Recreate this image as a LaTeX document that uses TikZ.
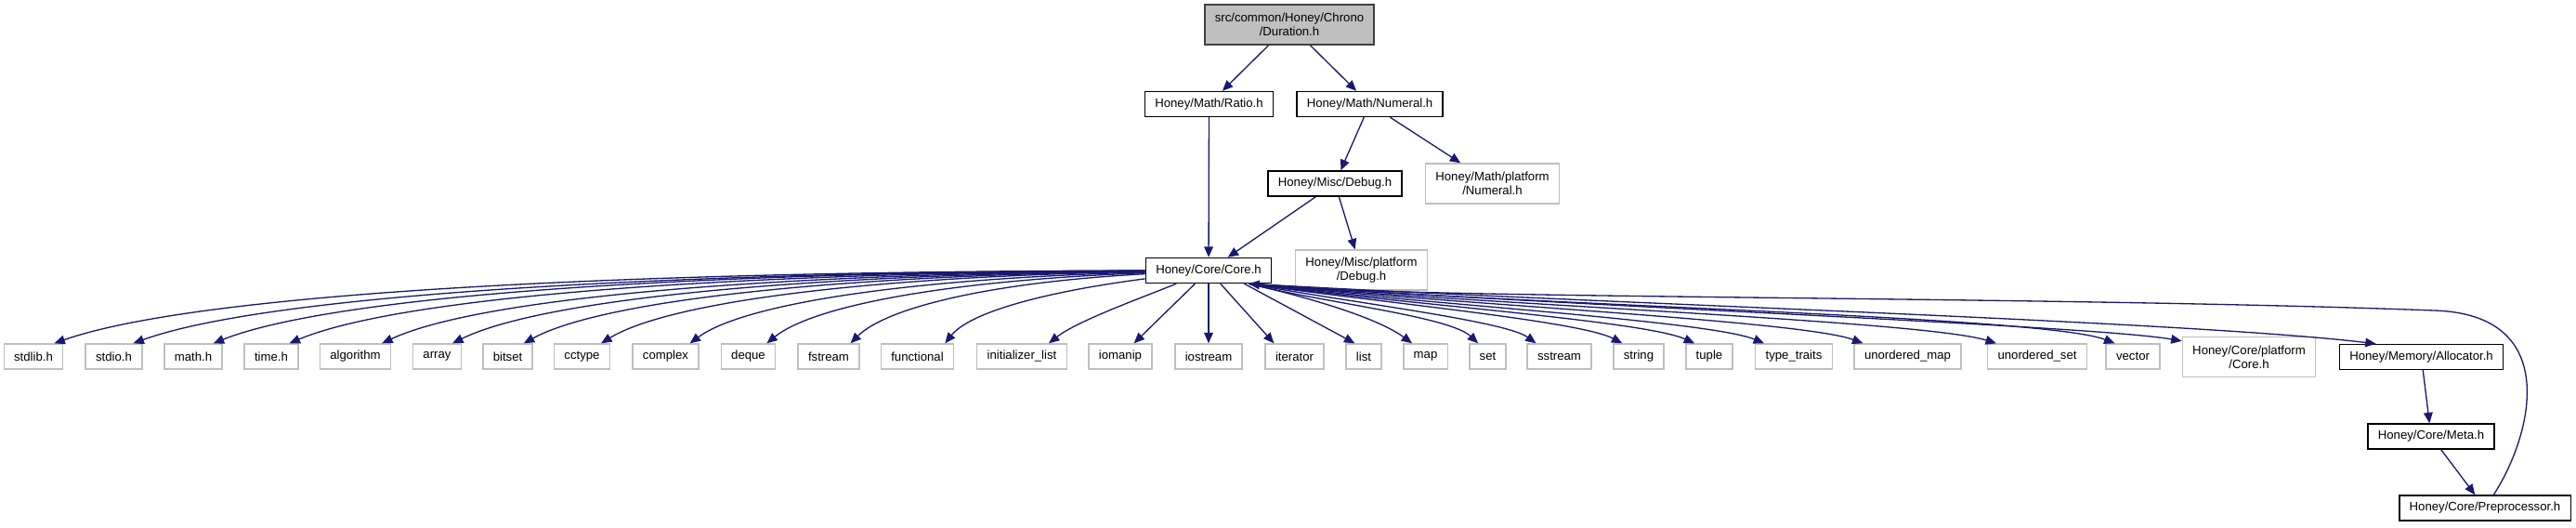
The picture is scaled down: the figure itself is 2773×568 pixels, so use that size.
\documentclass[tikz,border=0pt]{standalone}
\usepackage{fontspec}
\setmainfont{Liberation Sans}
\usepackage{tikz}
\usetikzlibrary{arrows.meta}
\definecolor{Edge}{HTML}{191970}
\definecolor{Grey}{HTML}{BFBFBF}
\definecolor{Frame}{HTML}{404040}

\begin{document}
\begin{tikzpicture}[x=0.02cm,y=-0.02cm,
      file/.style={draw=black,line width=0.8pt,inner xsep=6.2pt,inner ysep=1pt,minimum height=0.54cm,
        align=center,font=\fontsize{7.5}{8.5}\selectfont},
      ext/.style={file,draw=Grey},
      two/.style={minimum height=0.86cm},
      arr/.style={-{Triangle[length=6.5pt,width=5.5pt]},line width=0.75pt,draw=Edge}]
      \useasboundingbox (0,0) rectangle (2773,568);
      \node[file,two,fill=Grey,draw=Frame] (dur) at (1388,26.5) {src/common/Honey/Chrono\\/Duration.h};
      \node[file] (ratio) at (1301.5,112) {Honey/Math/Ratio.h};
      \node[file] (numeral) at (1474.5,112) {Honey/Math/Numeral.h};
      \node[file] (debug) at (1437,197.5) {Honey/Misc/Debug.h};
      \node[ext,two] (numplat) at (1606.5,197.5) {Honey/Math/platform\\/Numeral.h};
      \node[file] (core) at (1301,291) {Honey/Core/Core.h};
      \node[ext,two] (debugplat) at (1465.5,290.5) {Honey/Misc/platform\\/Debug.h};
      % standard headers
      \node[ext] (stdlib) at (36,383.5) {stdlib.h};
      \node[ext] (stdio) at (122.5,383.5) {stdio.h};
      \node[ext] (mathh) at (208,383.5) {math.h};
      \node[ext] (timeh) at (292,383.5) {time.h};
      \node[ext] (algo) at (382.5,383.5) {algorithm};
      \node[ext] (array) at (470.5,383.5) {array};
      \node[ext] (bitset) at (546.5,383.5) {bitset};
      \node[ext] (cctype) at (626.5,383.5) {cctype};
      \node[ext] (complex) at (716.5,383.5) {complex};
      \node[ext] (deque) at (805.5,383.5) {deque};
      \node[ext] (fstream) at (892,383.5) {fstream};
      \node[ext] (functional) at (987.5,383.5) {functional};
      \node[ext] (initlist) at (1100,383.5) {initializer\_list};
      \node[ext] (iomanip) at (1206,383.5) {iomanip};
      \node[ext] (iostream) at (1301,383.5) {iostream};
      \node[ext] (iterator) at (1393.5,383.5) {iterator};
      \node[ext] (list) at (1468,383.5) {list};
      \node[ext] (map) at (1534.5,383.5) {map};
      \node[ext] (set) at (1601.5,383.5) {set};
      \node[ext] (sstream) at (1678.5,383.5) {sstream};
      \node[ext] (string) at (1764,383.5) {string};
      \node[ext] (tuple) at (1840,383.5) {tuple};
      \node[ext] (traits) at (1931,383.5) {type\_traits};
      \node[ext] (umap) at (2053.5,383.5) {unordered\_map};
      \node[ext] (uset) at (2193,383.5) {unordered\_set};
      \node[ext] (vector) at (2296,383.5) {vector};
      \node[ext,two] (coreplat) at (2421,384) {Honey/Core/platform\\/Core.h};
      \node[file] (alloc) at (2606.5,384) {Honey/Memory/Allocator.h};
      \node[file] (meta) at (2617,469.5) {Honey/Core/Meta.h};
      \node[file] (prep) at (2675,546.5) {Honey/Core/Preprocessor.h};
      % upper part
      \draw[arr] (dur) -- (ratio);
      \draw[arr] (dur) -- (numeral);
      \draw[arr] (ratio) -- (core);
      \draw[arr] (numeral) -- (debug);
      \draw[arr] (numeral) -- (numplat);
      \draw[arr] (debug) -- (core);
      \draw[arr] (debug) -- (debugplat);
      % core to the left
      \draw[arr] (core) .. controls (598,292) and (199,320) .. ([xshift=-2mm]stdlib.north east);
      \draw[arr] (core) .. controls (644,293) and (274,322) .. ([xshift=-2mm]stdio.north east);
      \draw[arr] (core) .. controls (690,293) and (349,322) .. ([xshift=-2mm]mathh.north east);
      \draw[arr] (core) .. controls (735,294) and (422,323) .. ([xshift=-2mm]timeh.north east);
      \draw[arr] (core) .. controls (788,295) and (508,324) .. ([xshift=-2mm]algo.north east);
      \draw[arr] (core) .. controls (830,296) and (577,325) .. ([xshift=-2mm]array.north east);
      \draw[arr] (core) .. controls (871,297) and (643,326) .. ([xshift=-2mm]bitset.north east);
      \draw[arr] (core) .. controls (916,298) and (716,327) .. ([xshift=-2mm]cctype.north east);
      \draw[arr] (core) .. controls (967,300) and (799,328) .. ([xshift=-2mm]complex.north east);
      \draw[arr] (core) .. controls (1013,302) and (874,330) .. ([xshift=-2mm]deque.north east);
      \draw[arr] (core) .. controls (1061,304) and (953,332) .. ([xshift=-2mm]fstream.north east);
      \draw[arr] (core) .. controls (1124,314) and (1044,336) .. ([xshift=-2mm]functional.north east);
      \draw[arr] (core) .. controls (1230,320) and (1160,345) .. ([xshift=-4mm]initlist.north east);
      \draw[arr] (core) -- ([xshift=-4mm]iomanip.north east);
      \draw[arr] (core) -- (iostream);
      % core to the right
      \draw[arr] (core) -- ([xshift=2mm]iterator.north west);
      \draw[arr] ([xshift=-6mm]core.south east) -- ([xshift=2mm]list.north west);
      \draw[arr] ([xshift=-5mm]core.south east) .. controls (1400,318) and (1480,340) .. ([xshift=2mm]map.north west);
      \draw[arr] ([xshift=-5mm]core.south east) .. controls (1420,325) and (1560,340) .. ([xshift=2mm]set.north west);
      \draw[arr] ([xshift=-5mm]core.south east) .. controls (1450,325) and (1620,345) .. ([xshift=2mm]sstream.north west);
      \draw[arr] ([xshift=-5mm]core.south east) .. controls (1480,325) and (1700,345) .. ([xshift=2mm]string.north west);
      \draw[arr] ([xshift=-5mm]core.south east) .. controls (1500,326) and (1770,345) .. ([xshift=2mm]tuple.north west);
      \draw[arr] ([xshift=-5mm]core.south east) .. controls (1520,326) and (1840,345) .. ([xshift=2mm]traits.north west);
      \draw[arr] ([xshift=-5mm]core.south east) .. controls (1560,327) and (1940,345) .. ([xshift=2mm]umap.north west);
      \draw[arr] ([xshift=-5mm]core.south east) .. controls (1600,328) and (2070,345) .. ([xshift=2mm]uset.north west);
      \draw[arr] ([xshift=-5mm]core.south east) .. controls (1650,329) and (2200,340) .. ([xshift=2mm]vector.north west);
      \draw[arr] ([xshift=-5mm]core.south east) .. controls (1700,330) and (2250,350) .. ([yshift=-1mm]coreplat.north west);
      \draw[arr] ([xshift=-5mm]core.south east) .. controls (1700,326) and (2350,345) .. ([xshift=8mm]alloc.north west);
      % memory chain
      \draw[arr] (alloc) -- (meta);
      \draw[arr] (meta) -- (prep);
      \draw[arr] (prep) .. controls (2725,470) and (2760,338) .. (2620,334)
        .. controls (2200,318) and (1500,322) .. ([xshift=-5mm]core.south east);
    \end{tikzpicture}
\end{document}
